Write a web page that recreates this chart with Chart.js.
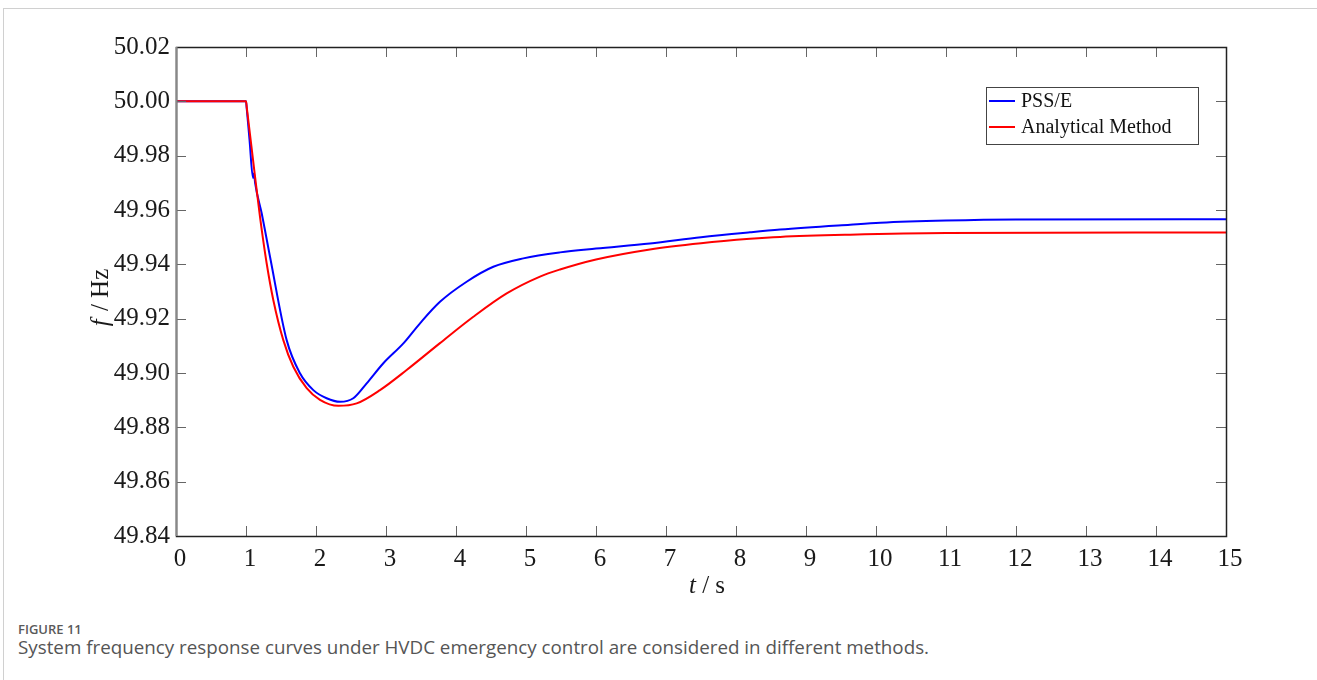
<!DOCTYPE html>
<html>
<head>
<meta charset="utf-8">
<script src="https://cdn.jsdelivr.net/npm/chart.js@4.4.0/dist/chart.umd.min.js"></script>
<style>
  body { margin: 0; background: #fff; width: 1317px; height: 680px; overflow: hidden; position: relative; }
  #frame { position: absolute; left: 3px; top: 8px; right: -2px; bottom: -2px; border-top: 1px solid #d0d0d0; border-left: 1px solid #d0d0d0; }
  #wrap { position: absolute; left: 0; top: 0; width: 1317px; height: 610px; }
  #figno { position: absolute; left: 18px; top: 620px; font: 600 13px "Open Sans", sans-serif; color: #5a5a5a; }
  #caption { position: absolute; left: 18px; top: 634px; font: 18.8px "Open Sans", sans-serif; color: #555; }
</style>
</head>
<body>
<div id="frame"></div>
<div id="wrap"><canvas id="myChart" width="1317" height="610"></canvas></div>
<div id="figno">FIGURE 11</div>
<div id="caption">System frequency response curves under HVDC emergency control are considered in different methods.</div>
<script>
// datos
var timePSSE = [0, 1.0, 1.01, 1.05, 1.10, 1.115, 1.13, 1.224, 1.343, 1.581, 1.771, 1.962, 2.152, 2.343, 2.533, 2.724, 2.962, 3.248, 3.486, 3.771, 4.152, 4.533, 4.962, 5.486, 6.0, 6.77, 7.5, 8.2, 8.63, 9.63, 10.06, 11, 12, 15];
var freqPSSE = [50.000, 50.000, 49.9975, 49.986, 49.9718, 49.9735, 49.970, 49.9588, 49.9428, 49.9121, 49.8999, 49.8937, 49.8907, 49.8894, 49.8907, 49.8962, 49.9036, 49.9109, 49.9183, 49.9262, 49.9336, 49.9391, 49.9422, 49.9444, 49.9458, 49.9477, 49.9500, 49.9518, 49.9528, 49.9546, 49.9553, 49.9561, 49.9565, 49.9566];

var timeAnalytic = [0, 1.0, 1.01, 1.129, 1.2, 1.295, 1.39, 1.533, 1.676, 1.867, 2.057, 2.319, 2.581, 2.914, 3.295, 3.771, 4.248, 4.724, 5.2, 5.486, 6.0, 6.77, 7.5, 8.2, 8.63, 9.63, 11, 15];
var freqAnalytic = [50.000, 50.000, 49.998, 49.9723, 49.9575, 49.9404, 49.9269, 49.9121, 49.9023, 49.8944, 49.8901, 49.8879, 49.8888, 49.8937, 49.9011, 49.9110, 49.9207, 49.9293, 49.9355, 49.9381, 49.9418, 49.9455, 49.9478, 49.9494, 49.9501, 49.9509, 49.9515, 49.9517];

var xTicks = [0, 1, 2, 3, 4, 5, 6, 7, 8, 9, 10, 11, 12, 13, 14, 15];
var yTicks = [49.84, 49.86, 49.88, 49.90, 49.92, 49.94, 49.96, 49.98, 50.00, 50.02];
var seriesNames = ['PSS/E', 'Analytical Method'];
var seriesColors = ['#0000ff', '#ff0000'];

function pares(xs, ys) {
    var out = [];
    for (var i = 0; i < xs.length; i++) out.push({x: xs[i], y: ys[i]});
    return out;
}

var serif = '"Liberation Serif", "Times New Roman", serif';

// caja, marcas hacia dentro, titulos de ejes y leyenda
var cajaPlugin = {
    id: 'caja',
    afterDraw: function(chart) {
        var ctx = chart.ctx, a = chart.chartArea;
        var sx = chart.scales.x, sy = chart.scales.y;
        ctx.save();
        ctx.strokeStyle = '#666';
        ctx.lineWidth = 1;
        ctx.beginPath();
        xTicks.forEach(function(t) {
            var px = Math.round(sx.getPixelForValue(t)) + 0.5;
            ctx.moveTo(px, a.bottom); ctx.lineTo(px, a.bottom - 10);
            ctx.moveTo(px, a.top); ctx.lineTo(px, a.top + 10);
        });
        yTicks.forEach(function(v) {
            var py = Math.round(sy.getPixelForValue(v)) + 0.5;
            ctx.moveTo(a.left, py); ctx.lineTo(a.left + 10, py);
            ctx.moveTo(a.right, py); ctx.lineTo(a.right - 10, py);
        });
        ctx.stroke();
        ctx.strokeStyle = '#222';
        ctx.lineWidth = 1.5;
        ctx.strokeRect(Math.round(a.left) + 0.5, Math.round(a.top) + 0.5, Math.round(a.right - a.left), Math.round(a.bottom - a.top));
        ctx.strokeStyle = '#888';
        ctx.lineWidth = 2;
        ctx.beginPath();
        ctx.moveTo(Math.round(a.left) + 0.5, a.top); ctx.lineTo(Math.round(a.left) + 0.5, a.bottom);
        ctx.stroke();

        // titulos
        ctx.fillStyle = '#1a1a1a';
        ctx.textBaseline = 'middle';
        var it = 'italic 25px ' + serif, no = '25px ' + serif;
        ctx.font = it; var w1 = ctx.measureText('t').width;
        ctx.font = no; var w2 = ctx.measureText(' / s').width;
        var cx = (a.left + a.right) / 2 + 6, cy = 586;
        ctx.textAlign = 'left';
        ctx.font = it; ctx.fillText('t', cx - (w1 + w2) / 2, cy);
        ctx.font = no; ctx.fillText(' / s', cx - (w1 + w2) / 2 + w1, cy);

        ctx.save();
        ctx.translate(101, (a.top + a.bottom) / 2 + 6);
        ctx.rotate(-Math.PI / 2);
        ctx.font = it; w1 = ctx.measureText('f').width + 2;
        ctx.font = no; w2 = ctx.measureText(' / Hz').width;
        ctx.font = it; ctx.fillText('f', -(w1 + w2) / 2, 0);
        ctx.font = no; ctx.fillText(' / Hz', -(w1 + w2) / 2 + w1, 0);
        ctx.restore();

        // leyenda
        var lx = 986, ly = 87, lw = 212, lh = 57;
        ctx.fillStyle = '#fff';
        ctx.fillRect(lx, ly, lw, lh);
        ctx.strokeStyle = '#444';
        ctx.lineWidth = 1;
        ctx.strokeRect(lx + 0.5, ly + 0.5, lw, lh);
        ctx.font = '20px ' + serif;
        ctx.textAlign = 'left';
        for (var i = 0; i < seriesNames.length; i++) {
            var yy = ly + 14 + i * 26;
            ctx.strokeStyle = seriesColors[i];
            ctx.lineWidth = 2;
            ctx.beginPath(); ctx.moveTo(lx + 3, yy); ctx.lineTo(lx + 29, yy); ctx.stroke();
            ctx.fillStyle = '#111';
            ctx.fillText(seriesNames[i], lx + 35, yy + 1);
        }
        ctx.restore();
    }
};

var ctx = document.getElementById('myChart');
var myChart = new Chart(ctx, {
    type: 'line',
    data: {
        datasets: [{
            label: seriesNames[0],
            data: pares(timePSSE, freqPSSE),
            borderColor: seriesColors[0],
            borderWidth: 2,
            pointRadius: 0,
            fill: false,
            cubicInterpolationMode: 'monotone',
            order: 2
        }, {
            label: seriesNames[1],
            data: pares(timeAnalytic, freqAnalytic),
            borderColor: seriesColors[1],
            borderWidth: 2,
            pointRadius: 0,
            fill: false,
            cubicInterpolationMode: 'monotone',
            order: 1
        }]
    },
    options: {
        responsive: false,
        animation: false,
        layout: { padding: { left: 0, right: 91, top: 47, bottom: 0 } },
        plugins: { legend: { display: false }, tooltip: { enabled: false } },
        scales: {
            x: {
                type: 'linear', min: 0, max: 15,
                afterBuildTicks: function(s) { s.ticks = xTicks.map(function(v) { return {value: v}; }); },
                afterFit: function(s) { s.height = 74; },
                grid: { display: false, drawTicks: false },
                border: { display: false },
                ticks: { color: '#1a1a1a', font: { family: serif, size: 25 }, padding: 8, labelOffset: 4, maxRotation: 0, autoSkip: false }
            },
            y: {
                type: 'linear', min: 49.84, max: 50.02,
                afterBuildTicks: function(s) { s.ticks = yTicks.map(function(v) { return {value: v}; }); },
                afterFit: function(s) { s.width = 176; },
                grid: { display: false, drawTicks: false },
                border: { display: false },
                ticks: { color: '#1a1a1a', font: { family: serif, size: 25 }, padding: 6, autoSkip: false,
                    callback: function(v) { return Number(v).toFixed(2); } }
            }
        }
    },
    plugins: [cajaPlugin]
});
</script>
</body>
</html>
